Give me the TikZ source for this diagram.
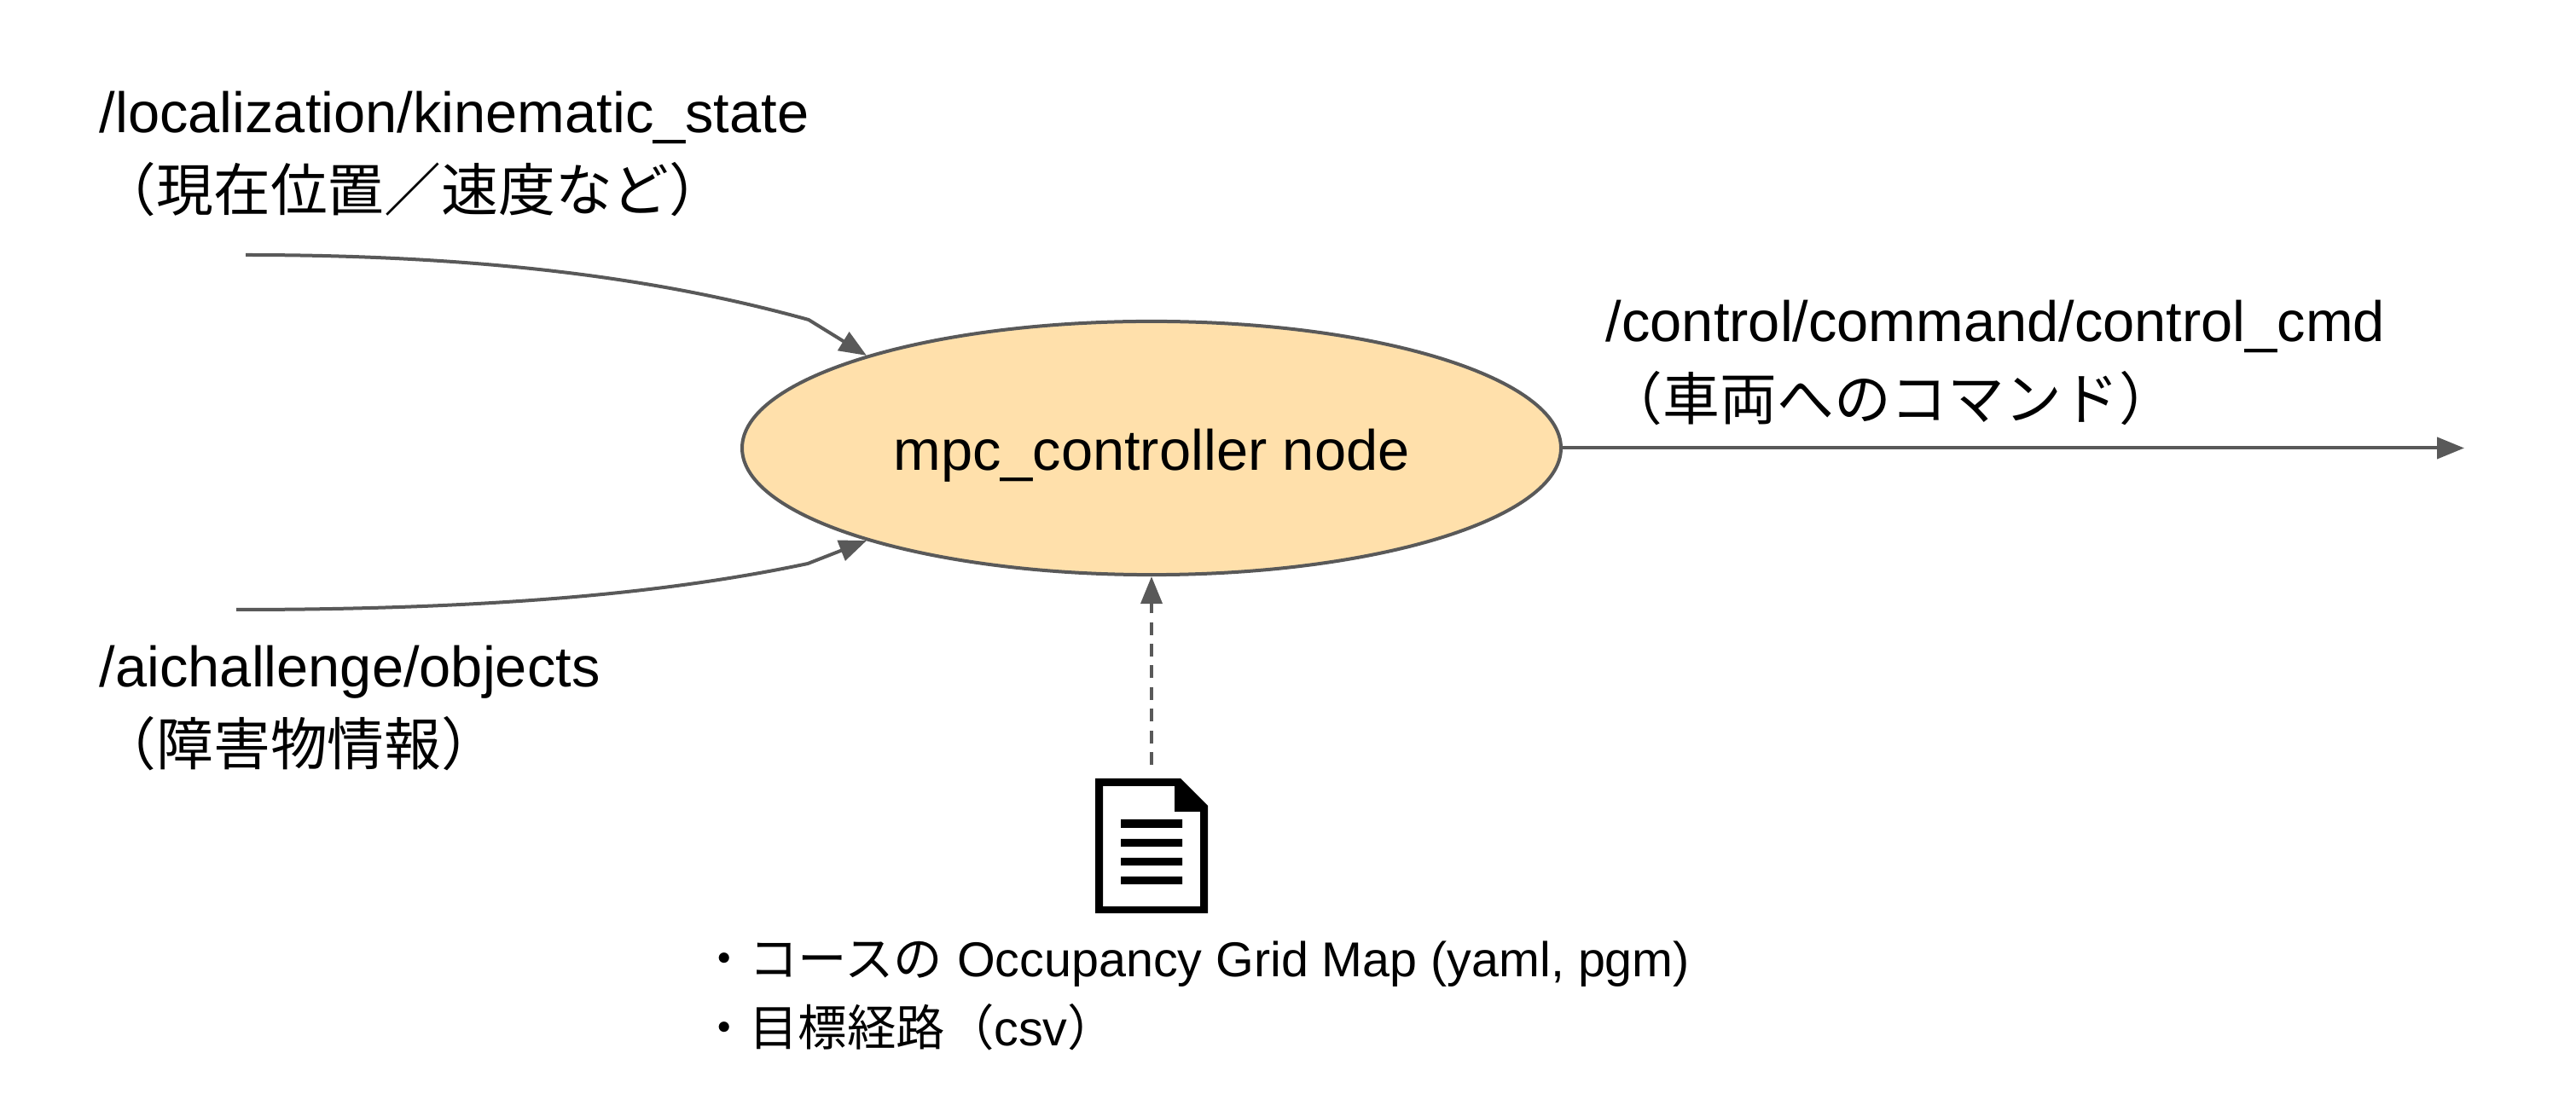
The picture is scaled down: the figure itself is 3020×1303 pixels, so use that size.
\documentclass[tikz,border=0pt]{standalone}
\usepackage{fontspec}
\setmainfont{Liberation Sans}
\newfontfamily\cjk{Noto Sans CJK JP}
\usetikzlibrary{arrows.meta,shapes.geometric}
\definecolor{linegray}{HTML}{595959}
\definecolor{nodefill}{HTML}{FFE0AB}
\tikzset{
  topic/.style={anchor=north west,inner sep=0pt,align=left,text=black,font=\fontsize{16.7}{23}\selectfont},
  filetext/.style={anchor=north west,inner sep=0pt,align=left,text=black,font=\fontsize{14.36}{20.3}\selectfont},
  link/.style={draw=linegray,line width=1pt,-{Triangle[length=8pt,width=6.25pt]}},
  procnode/.style={ellipse,draw=linegray,fill=nodefill,line width=1pt,minimum width=240pt,minimum height=74.3pt,inner sep=0pt,text height=16.2pt,text depth=3.4pt,font=\fontsize{16.7}{20}\selectfont}
}
\begin{document}
\begin{tikzpicture}[x=0.25pt,y=-0.25pt]
\useasboundingbox (0,0) rectangle (3020,1303);
\node[procnode] (ctrl) at (1350,525.5) {mpc\_controller node};
\node[topic] (loc) at (116,106) {/localization/kinematic\_state\\{\cjk （現在位置／速度など）}};
\node[topic] (cmd) at (1882,351) {/control/command/control\_cmd\\{\cjk （車両へのコマンド）}};
\node[topic] (obj) at (116,756) {/aichallenge/objects\\{\cjk （障害物情報）}};
\node[filetext] (files) at (820,1103) {{\cjk ・コースの}\hspace{0.3pt} Occupancy Grid Map (yaml, pgm)\\{\cjk ・目標経路（}csv{\cjk ）}};
\coordinate (locstart) at (288,299);
\coordinate (lockink) at (948,375);
\coordinate (objstart) at (277,715);
\coordinate (objkink) at (947,661);
\coordinate (cmdend) at (2889,525.5);
\coordinate (doc) at (1350,897);
\draw[link] (locstart) .. controls (600,299) and (800,334) .. (lockink) -- (ctrl.162.85);
\draw[link] (objstart) .. controls (600,715) and (800,692) .. (objkink) -- (ctrl.198);
\draw[link] (ctrl.east) -- (cmdend);
\draw[link,dash pattern=on 3.75pt off 2.6pt] (doc) -- (ctrl.south);
\fill[black,even odd rule] (1284,913) -- (1384,913) -- (1416,945) -- (1416,1071) -- (1284,1071) -- cycle
  (1293,922) -- (1377,922) -- (1377,952) -- (1407,952) -- (1407,1063) -- (1293,1063) -- cycle;
\fill[black] (1314,961) rectangle (1386,971) (1314,984) rectangle (1386,993) (1314,1006) rectangle (1386,1015) (1314,1028) rectangle (1386,1037);
\end{tikzpicture}
\end{document}
